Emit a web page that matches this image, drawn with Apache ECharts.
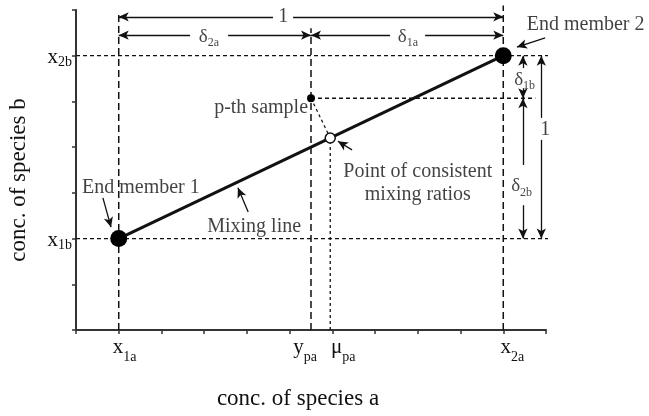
<!DOCTYPE html>
<html><head><meta charset="utf-8">
<script src="https://cdn.jsdelivr.net/npm/echarts@6/dist/echarts.min.js"></script>
<style>html,body{margin:0;padding:0;background:#fff}#c{width:649px;height:416px}</style>
</head><body><div id="c"></div>
<script>
// ---- data ----
const xTickValues = [1, 5.5, 5.95, 10];
const xTickNames = ['x|1a', 'y|pa', 'μ|pa', 'x|2a'];
const yTickValues = [2, 6];
const yTickNames = ['x|1b', 'x|2b'];
const endMember1 = [1, 2];
const endMember2 = [10, 6];
const sample = [5.5, 5.07];
const consistent = [5.95, 4.2];
const xAxisTitle = 'conc. of species a';
const yAxisTitle = 'conc. of species b';

// ---- style ----
const FONT = 'Liberation Serif';
const K = '#111';
const sub = (main, s, ms, ss) => `{${ms}|${main}}{${ss}|${s}}`;

const xShift = {1: ['L', 12], 5.5: ['R', 12], 5.95: ['L', 26], 10: ['L', 18]};
function xLabel(v) {
  const i = xTickValues.indexOf(v);
  if (i < 0) return '';
  const [m, s] = xTickNames[i].split('|');
  const sh = xShift[v];
  const sp = `{sp${sh[1]}| }`;
  const core = sub(m, s, 'xm', 'xs');
  return sh[0] === 'L' ? sp + core : core + sp;
}
function yLabel(v) {
  const i = yTickValues.indexOf(v);
  if (i < 0) return '';
  const [m, s] = yTickNames[i].split('|');
  return sub(m, s, 'ym', 'ys');
}
const rich = {
  xm: {fontFamily: FONT, fontSize: 21, lineHeight: 18, verticalAlign: 'top', color: K},
  xs: {fontFamily: FONT, fontSize: 14, lineHeight: 14, padding: [13, 0, 0, 0], verticalAlign: 'top', color: K},
  ym: {fontFamily: FONT, fontSize: 21, lineHeight: 18, verticalAlign: 'top', color: K},
  ys: {fontFamily: FONT, fontSize: 14, lineHeight: 14, padding: [9, 0, 0, 0], verticalAlign: 'top', color: K},
  dm: {fontFamily: FONT, fontSize: 19, lineHeight: 16, verticalAlign: 'top', color: K},
  ds: {fontFamily: FONT, fontSize: 12, lineHeight: 12, padding: [10, 0, 0, 0], verticalAlign: 'top', color: K},
  sp12: {width: 12}, sp18: {width: 18}, sp26: {width: 26}
};

function guide(a, b, style) {
  return {type: 'line', data: [a, b], symbol: 'none', clip: false, silent: true,
    lineStyle: style, z: 1, animation: false};
}
const dashV = {type: [7, 4], width: 1.5, color: K};
const dashH = {type: [4, 3], width: 1.3, color: K};
const dotV = {type: [3, 3], width: 1.3, color: K};

// arrow from a (plain end) to b (arrowhead)
function arrow(a, b) {
  return [{coord: a, symbol: 'none'}, {coord: b, symbol: 'arrow'}];
}
function txt(pos, text, align, extra) {
  return {value: pos, label: Object.assign({show: true, position: 'inside',
    formatter: text, align: align || 'center', verticalAlign: 'middle',
    fontFamily: FONT, fontSize: 20, color: K, rich: rich}, extra || {})};
}

const topY = 6.85, deltaY = 6.45, rightA = 10.46, rightB = 10.89;
const x1 = endMember1[0], x2 = endMember2[0], y1 = endMember1[1], y2 = endMember2[1];

const option = {
  animation: false,
  backgroundColor: '#fff',
  grid: {left: 76, right: 103, top: 10, bottom: 86, containLabel: false, outerBoundsMode: 'none'},
  xAxis: {
    type: 'value', min: 0, max: 11, interval: 1,
    axisLine: {lineStyle: {color: '#333', width: 2}},
    axisTick: {show: true, length: 4, lineStyle: {color: '#333', width: 1.5}},
    splitLine: {show: false},
    axisLabel: {customValues: xTickValues, formatter: xLabel, rich: rich, margin: 7, verticalAlign: 'top'},
    name: xAxisTitle, nameLocation: 'middle', nameGap: 57,
    nameTextStyle: {fontFamily: FONT, fontSize: 23, color: K, padding: [0, 26, 0, 0]}
  },
  yAxis: {
    type: 'value', min: 0, max: 7, interval: 1,
    axisLine: {show: true, lineStyle: {color: '#333', width: 2}},
    axisTick: {show: true, length: 4, lineStyle: {color: '#333', width: 1.5}},
    splitLine: {show: false},
    axisLabel: {customValues: yTickValues, formatter: yLabel, rich: rich, margin: 4},
    name: yAxisTitle, nameLocation: 'middle', nameGap: 46,
    nameTextStyle: {fontFamily: FONT, fontSize: 23, color: K, padding: [0, 20, 0, 0]}
  },
  series: [
    guide([x1, 0], [x1, 6.96], dashV),
    guide([sample[0], 0], [sample[0], 6.6], dashV),
    guide([x2, 0], [x2, 7.1], dashV),
    guide([consistent[0], 0], consistent, dotV),
    guide([0, y2], [11.15, y2], dashH),
    guide([0, y1], [11.29, y1], dashH),
    guide(sample, [10.75, sample[1]], dashH),
    guide(sample, consistent, {type: [3, 3], width: 1.2, color: K}),
    {
      type: 'line', data: [endMember1, endMember2], symbol: 'none', z: 3, silent: true,
      lineStyle: {color: K, width: 3}
    },
    {
      type: 'line', data: [], symbol: 'none', clip: false, z: 2, silent: true,
      markLine: {
        silent: true, symbolSize: [7, 10], precision: 4,
        label: {show: false},
        lineStyle: {color: K, width: 1.3, type: 'solid'},
        emphasis: {disabled: true},
        data: [
          // top "1"
          arrow([4.61, topY], [x1, topY]),
          arrow([5.08, topY], [x2, topY]),
          // delta 2a / 1a
          arrow([2.67, deltaY], [x1, deltaY]),
          arrow([3.56, deltaY], [sample[0], deltaY]),
          arrow([7.35, deltaY], [sample[0], deltaY]),
          arrow([8.17, deltaY], [x2, deltaY]),
          // delta 1b
          arrow([rightA, 5.73], [rightA, y2]),
          arrow([rightA, 5.29], [rightA, sample[1]]),
          // delta 2b
          arrow([rightA, 3.61], [rightA, sample[1]]),
          arrow([rightA, 2.73], [rightA, y1]),
          // right "1"
          arrow([rightB, 4.64], [rightB, y2]),
          arrow([rightB, 4.16], [rightB, y1]),
          // leaders
          arrow([10.98, 6.39], [10.32, 6.19]),
          arrow([6.46, 3.94], [6.13, 4.13]),
          arrow([0.63, 2.89], [0.82, 2.25]),
          arrow([4.03, 2.58], [3.79, 3.11])
        ]
      }
    },
    {
      type: 'scatter', data: [endMember1, endMember2], symbolSize: 17, z: 5, silent: true,
      itemStyle: {color: '#000', opacity: 1}
    },
    {
      type: 'scatter', data: [sample], symbolSize: 8, z: 5, silent: true,
      itemStyle: {color: '#000', opacity: 1}
    },
    {
      type: 'scatter', data: [consistent], symbolSize: 10, z: 5, silent: true,
      itemStyle: {color: '#fff', borderColor: K, borderWidth: 1.5, opacity: 1}
    },
    {
      type: 'scatter', symbolSize: 0, z: 10, silent: true, clip: false,
      data: [
        txt([4.85, topY], '1'),
        txt([3.11, deltaY], sub('δ', '2a', 'dm', 'ds')),
        txt([7.77, deltaY], sub('δ', '1a', 'dm', 'ds')),
        txt([10.5, 5.51], sub('δ', '1b', 'dm', 'ds')),
        txt([10.43, 3.18], sub('δ', '2b', 'dm', 'ds')),
        txt([10.98, 4.38], '1'),
        txt([10.55, 6.67], 'End member 2', 'left'),
        txt([0.14, 3.11], 'End member 1', 'left'),
        txt([3.07, 2.25], 'Mixing line', 'left'),
        txt([5.43, 4.86], 'p-th sample', 'right'),
        txt([8.0, 3.22], 'Point of consistent\nmixing ratios', 'center', {lineHeight: 23})
      ]
    }
  ]
};
const chart = echarts.init(document.getElementById('c'), null, {renderer: 'canvas'});
chart.setOption(option);
</script></body></html>
